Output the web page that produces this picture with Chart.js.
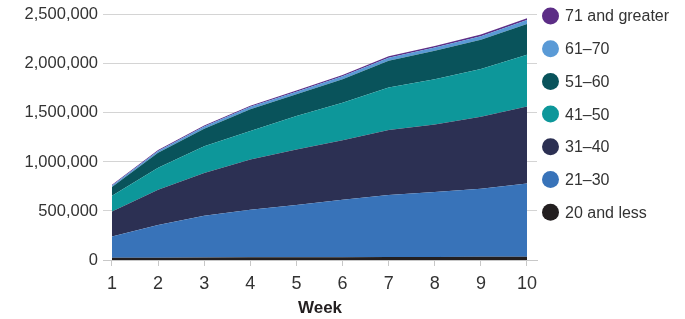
<!DOCTYPE html>
<html>
<head>
<meta charset="utf-8">
<script src="https://cdn.jsdelivr.net/npm/chart.js@4/dist/chart.umd.min.js"></script>
<style>
  html, body { margin: 0; padding: 0; background: #fff; }
  #wrap { width: 685px; height: 319px; }
</style>
</head>
<body>
<div id="wrap"><canvas id="myChart" width="685" height="319"></canvas></div>
<script>
let weeks = [1, 2, 3, 4, 5, 6, 7, 8, 9, 10];

// bottom of the stack first
let ageGroups = ['20 and less', '21–30', '31–40', '41–50', '51–60', '61–70', '71 and greater'];

let age20 = [22000, 24000, 26000, 27000, 28000, 29000, 30000, 31000, 32000, 33000];
let age21 = [218000, 334000, 425000, 485000, 532000, 586000, 633000, 663000, 695000, 747000];
let age31 = [255000, 359000, 437000, 513000, 567000, 607000, 662000, 689000, 735000, 785000];
let age41 = [161000, 223000, 273000, 290000, 341000, 383000, 434000, 461000, 485000, 528000];
let age51 = [89000, 153000, 178000, 222000, 222000, 239000, 273000, 290000, 300000, 315000];
let age61 = [15000, 20000, 22000, 25000, 27000, 30000, 32000, 34000, 36000, 40000];
let age71 = [8000, 10000, 10000, 11000, 12000, 13000, 14000, 15000, 16000, 18000];

let yTicks = [0, 500000, 1000000, 1500000, 2000000, 2500000];

let colors = ['#231f20', '#3873b9', '#2c3053', '#0d979a', '#09535b', '#5a9ad6', '#5c2d86'];

let allSeries = [age20, age21, age31, age41, age51, age61, age71];

const font = "'Liberation Sans', Arial, sans-serif";

let datasets = allSeries.map(function (vals, i) {
  return {
    label: ageGroups[i],
    data: weeks.map((w, j) => ({ x: w, y: vals[j] })),
    backgroundColor: colors[i],
    borderColor: colors[i],
    borderWidth: 0,
    pointRadius: 0,
    tension: 0,
    fill: i === 0 ? 'origin' : '-1'
  };
});

// legend drawn by hand on the right
const sideLegend = {
  id: 'sideLegend',
  afterDraw(chart) {
    const c = chart.ctx;
    c.save();
    c.font = '16px ' + font;
    c.textBaseline = 'middle';
    c.textAlign = 'left';
    for (let k = 0; k < ageGroups.length; k++) {
      let i = ageGroups.length - 1 - k;
      let y = 16 + k * 32.7;
      c.beginPath();
      c.arc(550.5, y, 8.5, 0, Math.PI * 2);
      c.fillStyle = colors[i];
      c.fill();
      c.fillStyle = '#333333';
      c.fillText(ageGroups[i], 565, y + 1);
    }
    c.restore();
  }
};

const ctx = document.getElementById('myChart');

new Chart(ctx, {
  type: 'line',
  data: { datasets: datasets },
  plugins: [sideLegend],
  options: {
    responsive: false,
    animation: false,
    layout: { padding: { top: 10, right: 148, left: 0, bottom: 0 } },
    plugins: {
      legend: { display: false },
      tooltip: { enabled: false }
    },
    scales: {
      x: {
        type: 'linear',
        min: 0.805,
        max: 10.217,
        afterBuildTicks: s => { s.ticks = weeks.map(v => ({ value: v })); },
        afterFit: s => { s.height = 59; },
        grid: { drawOnChartArea: false, drawTicks: true, tickLength: 6, color: '#c8c8c8' },
        border: { display: true, color: '#c8c8c8' },
        ticks: { color: '#333333', font: { family: font, size: 18 }, padding: 7, maxRotation: 0 },
        title: {
          display: true,
          text: 'Week',
          color: '#231f20',
          font: { family: font, size: 17, weight: 'bold' },
          padding: { top: 0, bottom: 0 }
        }
      },
      y: {
        stacked: true,
        min: 0,
        max: 2500000,
        afterBuildTicks: s => { s.ticks = yTicks.map(v => ({ value: v })); },
        afterFit: s => { s.width = 103; },
        grid: { color: '#d4d4d4', drawTicks: false },
        border: { display: false },
        ticks: {
          color: '#333333',
          font: { family: font, size: 16.5 },
          padding: 5,
          callback: v => v.toLocaleString('en-US')
        }
      }
    }
  }
});
</script>
</body>
</html>
